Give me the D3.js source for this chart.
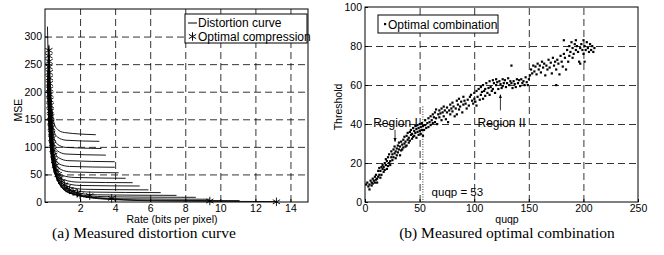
<!DOCTYPE html>
<html>
<head>
<meta charset="utf-8">
<script src="https://cdn.jsdelivr.net/npm/d3@7"></script>
<style>
body { margin: 0; background: #fff; }
text { font-family: "Liberation Sans", Arial, sans-serif; }
.cap { font-family: "Liberation Serif", "Times New Roman", serif; font-size: 15.5px; }
.grid line { stroke: #000; stroke-width: 0.8; stroke-dasharray: 7,4; }
.grid path { display: none; }
.ax path { display: none; }
.ax line { stroke: #000; }
.ax text { font-size: 10.5px; fill: #000; }
</style>
</head>
<body>
<div id="svg_container"></div>
<script>
/* -----------------------
data
------------------------- */

// left panel: each distortion curve as [rate, mse] points
var curves = [
	[[0.22,285],[0.3,220],[0.4,170],[0.5,145],[0.7,132],[1.1,126],[2.9,122]],
	[[0.2,280],[0.3,200],[0.4,155],[0.5,130],[0.7,118],[1.2,112],[3.1,110]],
	[[0.2,275],[0.3,190],[0.4,145],[0.5,118],[0.7,105],[1.2,99],[3.22,97]],
	[[0.19,270],[0.28,195],[0.4,135],[0.5,107],[0.7,93],[1.2,87],[3.47,85]],
	[[0.19,265],[0.28,185],[0.4,125],[0.55,92],[0.8,80],[1.3,75],[3.98,73]],
	[[0.18,260],[0.27,180],[0.4,115],[0.55,83],[0.8,69],[1.4,64.5],[3.98,63]],
	[[0.18,255],[0.27,175],[0.4,108],[0.6,72],[0.9,59],[1.5,54.5],[4.2,53]],
	[[0.17,250],[0.26,170],[0.4,100],[0.6,62],[1.0,48],[1.7,44.5],[4.6,43]],
	[[0.17,245],[0.26,165],[0.4,95],[0.65,55],[1.1,40],[1.9,36],[5.0,35]],
	[[0.16,240],[0.25,160],[0.4,90],[0.7,48],[1.2,34],[2.0,30],[5.4,29]],
	[[0.16,235],[0.25,155],[0.45,80],[0.8,40],[1.4,27],[2.3,23],[5.9,22]],
	[[0.16,230],[0.25,150],[0.45,75],[0.85,35],[1.6,21],[2.6,18],[6.6,17]],
	[[0.15,225],[0.24,145],[0.5,65],[1.0,28],[1.9,16],[3.0,13],[7.5,12]],
	[[0.15,220],[0.24,140],[0.5,60],[1.1,24],[2.2,12],[3.8,9.3],[8.6,8.5]],
	[[0.15,215],[0.24,135],[0.55,55],[1.2,20],[2.6,9],[4.5,5.8],[9.4,5]],
	[[0.15,210],[0.23,130],[0.55,52],[1.3,18],[3.0,7],[6,3.2],[11.1,2.5]],
	[[0.14,318],[0.2,240],[0.3,150],[0.6,48],[1.4,16],[3.5,5],[7,1.8],[13.2,0.8]]
];

var optimal = [
	[0.22,275],[0.22,265],[0.23,255],[0.23,245],[0.24,235],[0.25,225],[0.25,215],
	[0.26,205],[0.27,195],[0.28,185],[0.29,175],[0.3,165],[0.32,155],[0.34,145],
	[0.36,135],[0.38,125],[0.4,115],[0.43,105],[0.46,95],[0.5,85],[0.55,75],
	[0.6,66],[0.67,58],[0.75,50],[0.85,43],[0.95,37],[1.1,31],[1.25,26],[1.4,22],
	[1.6,19],[1.85,16],[2.0,13],[2.55,11.5],[3.8,6.6],[9.4,1.8],[13.2,0.3]
];

var rateTicks = [2,4,6,8,10,12,14];
var mseTicks = [0,50,100,150,200,250,300];

// right panel: optimal (quqp, threshold) pairs
var combos = [
	[1,9],[2,10],[3,8],[4,6.5],[4,9],[5,11],[6,8.5],[6,10],[7,9.5],[7,12],[8,11],[9,10],[9,13],[10,11.5],
	[10,14],[11,12],[11,10],[12,13],[12,16],[13,14],[13,17.5],[14,12.5],[14,16],[15,18],[15,14],[16,17],
	[16,19],[17,15.5],[17,18],[18,20],[18,16.5],[19,19],[19,22],[20,17],[20,21],[21,18.5],[21,23],[22,20],
	[22,24.5],[23,21],[23,19],[24,23],[24,26],[25,21.5],[25,24.5],[26,27],[26,23],[27,25],[27,28.5],
	[28,22.5],[28,26],[29,24],[29,27.5],[30,29],[30,25.5],[31,27],[31,30.5],[32,24],[32,28.5],[33,31],
	[33,26.5],[34,29.5],[34,27],[35,32],[35,28],[36,30],[36,33.5],[37,28.5],[37,31],[38,34],[38,29],
	[39,32],[39,35.5],[40,30.5],[40,33],[41,36],[41,31.5],[42,34.5],[42,37],[43,32.5],[43,35],[44,38],
	[44,33.5],[45,36.5],[45,34],[46,39],[46,35.5],[47,37.5],[47,33],[48,36],[48,39.5],[49,34.5],[49,38],
	[50,36.5],[50,40],[51,35],[51,38.5],[52,37],[52,40.5],[53,34],[53,39],
	[54,37],[55,39.5],[55,42],[56,38],[57,40.5],[58,43],[58,38.5],[59,41],[60,39.5],[60,44],[61,42],
	[62,45],[62,40.5],[63,43.5],[64,41],[64,46],[65,47.5],[65,43],[66,40],[67,45],[68,43.5],[68,47],
	[69,45.5],[70,48],[70,42],[71,46],[72,49],[72,44],[73,47],[74,42.5],[75,46],[75,48.5],[76,41],
	[77,47],[78,50],[78,45],[79,48],[80,46.5],[80,51],[81,49],[82,44],[83,48],[84,52],[84,45],[85,50],
	[86,53],[86,47.5],[87,49],[88,51.5],[89,46],[90,50],[90,54],[91,52],[92,50.5],[93,48],[94,52.5],
	[95,49.5],[96,54],[97,55],[98,52],[99,50.5],[100,53],[100,56],[101,51.5],[102,57],[102,49.5],
	[103,54],[104,58],[105,52.5],[106,59],[106,55],[107,56.5],[108,60],[108,53],[109,57],[110,54.5],
	[110,58],[111,61],[112,56],[113,58.5],[114,55],[114,62],[115,59],[116,57],[117,62.5],[117,58],
	[118,61],[119,56],[120,60],[120,63],[121,61.5],[122,58],[123,62],[124,60.5],[125,58.5],[126,63],
	[126,59.5],[127,61],[128,62.5],[129,59],[130,61],[131,63.5],[132,60],[133,62],[134,61],[134,70],
	[135,58.5],[136,62],[137,60.5],[138,59],[139,63],[140,61],[141,62.5],[142,59.5],[143,63],[144,61],
	[145,62],[146,60],[147,64],[148,61.5],[149,60],[150,63],
	[151,65],[152,68],[153,66],[154,70],[155,67],[156,69.5],[157,65.5],[158,71],[159,68],[160,70],
	[161,66.5],[162,72],[163,69],[164,71],[165,65],[166,70],[167,68],[168,73],[169,69],[170,71.5],
	[171,66],[172,74],[173,70],[174,72],[175,60],[175,68],[176,73],[177,71],[178,65.5],[179,75],
	[180,72],[181,69.5],[182,83],[182,76],[183,74],[184,68],[185,78],[186,72],[187,80],[187,75],[188,77],
	[189,82],[190,79],[190,74],[191,76],[192,81],[193,78],[194,80],[195,77],[196,72],[197,79],[198,81],
	[199,78],[200,83],[200,76],[201,80],[202,78],[203,82],[204,79],[205,77],[206,81],[207,78],[208,80],
	[209,77],[210,79],[193,83],[197,71],[201,72]
];

var quqpTicks = [0,50,100,150,200,250];
var threshTicks = [0,20,40,60,80,100];
var split = 53;

/* -----------------------
set svg
------------------------- */

var width = 664, height = 255;

var svg = d3.select("#svg_container")
	.append("svg")
	.attr("width", width)
	.attr("height", height);

/* -----------------------
left panel
------------------------- */

var xL = d3.scaleLinear().domain([0,15]).range([45,308]);
var yL = d3.scaleLinear().domain([0,350]).range([202,9]);

var left = svg.append("g").attr("id","left");

left.append("g").attr("class","grid")
	.attr("transform","translate(0,202)")
	.call(d3.axisBottom(xL).tickValues(rateTicks).tickSize(-193).tickFormat(""));
left.append("g").attr("class","grid")
	.attr("transform","translate(45,0)")
	.call(d3.axisLeft(yL).tickValues(mseTicks.slice(1)).tickSize(-263).tickFormat(""));

var line = d3.line()
	.x(function(d){ return xL(d[0]); })
	.y(function(d){ return yL(d[1]); })
	.curve(d3.curveMonotoneX);

left.selectAll(".curve")
	.data(curves)
	.enter()
	.append("path")
	.attr("class","curve")
	.attr("d", line)
	.attr("fill","none")
	.attr("stroke","#000")
	.attr("stroke-width",0.9);

var star = d3.symbol().type(d3.symbolAsterisk).size(50);

left.selectAll(".star")
	.data(optimal)
	.enter()
	.append("path")
	.attr("class","star")
	.attr("d", star)
	.attr("transform", function(d){ return "translate(" + xL(d[0]) + "," + yL(d[1]) + ")"; })
	.attr("fill","none")
	.attr("stroke","#000")
	.attr("stroke-width",0.9);

left.append("rect")
	.attr("x",45).attr("y",9).attr("width",263).attr("height",193)
	.attr("fill","none").attr("stroke","#000");

left.append("g").attr("class","ax")
	.attr("transform","translate(0,202)")
	.call(d3.axisBottom(xL).tickValues(rateTicks).tickSize(-3).tickPadding(3));
left.append("g").attr("class","ax")
	.attr("transform","translate(45,0)")
	.call(d3.axisLeft(yL).tickValues(mseTicks).tickSize(-3).tickPadding(3));

// legend
var lg = left.append("g");
lg.append("rect").attr("x",185).attr("y",14).attr("width",122).attr("height",29)
	.attr("fill","#fff").attr("stroke","#000");
lg.append("line").attr("x1",188).attr("x2",197).attr("y1",23).attr("y2",23)
	.attr("stroke","#000");
lg.append("text").attr("x",198).attr("y",27).attr("font-size",12).text("Distortion curve");
lg.append("path").attr("d",star)
	.attr("transform","translate(192.5,36.5)")
	.attr("fill","none").attr("stroke","#000");
lg.append("text").attr("x",198).attr("y",40.5).attr("font-size",12).text("Optimal compression");

left.append("text").attr("x",172).attr("y",223).attr("text-anchor","middle")
	.attr("font-size",10.5).text("Rate (bits per pixel)");
left.append("text").attr("transform","translate(22,110) rotate(-90)")
	.attr("text-anchor","middle").attr("font-size",10.5).text("MSE");

/* -----------------------
right panel
------------------------- */

var xR = d3.scaleLinear().domain([0,250]).range([365,638]);
var yR = d3.scaleLinear().domain([0,100]).range([202,7]);

var right = svg.append("g").attr("id","right");

right.append("g").attr("class","grid")
	.attr("transform","translate(0,202)")
	.call(d3.axisBottom(xR).tickValues(quqpTicks.slice(1,5)).tickSize(-195).tickFormat(""));
right.append("g").attr("class","grid")
	.attr("transform","translate(365,0)")
	.call(d3.axisLeft(yR).tickValues(threshTicks.slice(1,5)).tickSize(-273).tickFormat(""));

right.append("line")
	.attr("x1",xR(split)).attr("x2",xR(split))
	.attr("y1",yR(49)).attr("y2",yR(0))
	.attr("stroke","#000").attr("stroke-width",0.8)
	.attr("stroke-dasharray","1,1.5");

right.selectAll(".dot")
	.data(combos)
	.enter()
	.append("rect")
	.attr("class","dot")
	.attr("x", function(d){ return xR(d[0]) - 1; })
	.attr("y", function(d){ return yR(d[1]) - 1; })
	.attr("width",2.2).attr("height",2.2)
	.attr("fill","#000");

right.append("rect")
	.attr("x",365).attr("y",7).attr("width",273).attr("height",195)
	.attr("fill","none").attr("stroke","#000");

right.append("g").attr("class","ax")
	.attr("transform","translate(0,202)")
	.call(d3.axisBottom(xR).tickValues(quqpTicks).tickSize(-3).tickPadding(3));
right.append("g").attr("class","ax")
	.attr("transform","translate(365,0)")
	.call(d3.axisLeft(yR).tickValues(threshTicks).tickSize(-3).tickPadding(3));

// legend
var rg = right.append("g");
rg.append("rect").attr("x",378).attr("y",15).attr("width",120).attr("height",18)
	.attr("fill","#fff").attr("stroke","#000");
rg.append("rect").attr("x",384).attr("y",23).attr("width",2.2).attr("height",2.2).attr("fill","#000");
rg.append("text").attr("x",388).attr("y",28.5).attr("font-size",12).text("Optimal combination");

// annotations
var marker = svg.append("defs").append("marker")
	.attr("id","arr").attr("viewBox","0 0 10 10").attr("refX",9).attr("refY",5)
	.attr("markerWidth",5).attr("markerHeight",5).attr("orient","auto");
marker.append("path").attr("d","M0,1L10,5L0,9Z").attr("fill","#000");

right.append("text").attr("x",xR(7.5)).attr("y",yR(38.5)).attr("font-size",12).text("Region I");
right.append("line").attr("x1",xR(27.5)).attr("x2",xR(27.5)).attr("y1",yR(37)).attr("y2",yR(31))
	.attr("stroke","#000").attr("stroke-width",0.8).attr("marker-end","url(#arr)");

right.append("text").attr("x",xR(103)).attr("y",yR(38.5)).attr("font-size",12).text("Region II");
right.append("line").attr("x1",xR(124)).attr("x2",xR(124)).attr("y1",yR(47)).attr("y2",yR(55))
	.attr("stroke","#000").attr("stroke-width",0.8).attr("marker-end","url(#arr)");

right.append("text").attr("x",xR(61)).attr("y",yR(3)).attr("font-size",11.5).text("quqp = " + split);

right.append("text").attr("x",507).attr("y",223).attr("text-anchor","middle")
	.attr("font-size",10.5).text("quqp");
right.append("text").attr("transform","translate(342,107) rotate(-90)")
	.attr("text-anchor","middle").attr("font-size",10.5).text("Threshold");

/* -----------------------
captions
------------------------- */

svg.append("text").attr("class","cap").attr("x",144).attr("y",238)
	.attr("text-anchor","middle").text("(a) Measured distortion curve");
svg.append("text").attr("class","cap").attr("x",507).attr("y",238)
	.attr("text-anchor","middle").text("(b) Measured optimal combination");
</script>
</body>
</html>
